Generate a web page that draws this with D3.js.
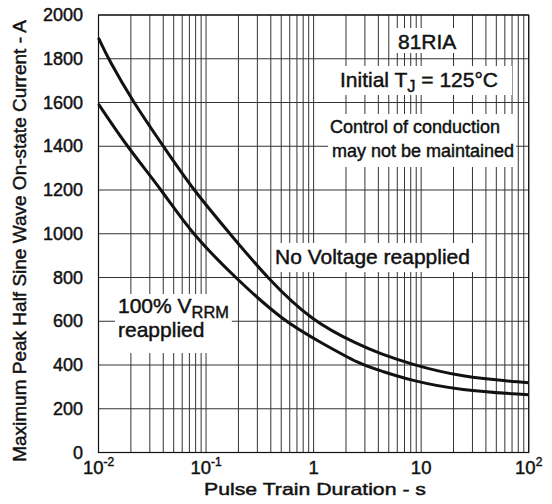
<!DOCTYPE html>
<html>
<head>
<meta charset="utf-8">
<script src="https://cdn.jsdelivr.net/npm/d3@7"></script>
<style>
  body { margin: 0; background: #fff; }
  text { font-family: "Liberation Sans", Arial, sans-serif; fill: #111; stroke: #111; stroke-width: 0.45; }
</style>
</head>
<body>
<div id="chart"></div>
<script>
// curves: pulse duration (s) -> peak current (A)
const noVoltageT = [0.01, 0.0123, 0.0211, 0.0401, 0.076, 0.167, 0.366, 0.96, 2.7, 4.14, 7.87, 23, 100];
const noVoltageI = [1895, 1800, 1600, 1400, 1200, 1000, 800, 600, 490, 452, 405, 345, 319];

const reappliedT = [0.01, 0.0183, 0.0387, 0.0736, 0.186, 0.522, 1.23, 2.7, 4.14, 7.87, 23, 100];
const reappliedI = [1593, 1400, 1200, 1000, 800, 600, 497, 403, 375, 330, 284, 264];

const yTicks = [0, 200, 400, 600, 800, 1000, 1200, 1400, 1600, 1800, 2000];
const xDecades = [0.01, 0.1, 1, 10, 100];
const xTickBase = ["10", "10", "1", "10", "10"];
const xTickSup = ["-2", "-1", "", "", "2"];


function drawSurgeChart(target) {

    let width = 552;
    let height = 504;
    const svg = d3.select(target).append("svg")
        .attr("width", width)
        .attr("height", height);

    let x = d3.scaleLog()
        .domain([0.01, 100])
        .range([98.5, 528.7]);
    let y = d3.scaleLinear()
        .domain([0, 2000])
        .range([452.5, 15]);

    // grid: every 1..9 of each decade, every 200 A
    svg.selectAll(".vgrid")
        .data(x.ticks())
        .join(
            enter => enter.append("line")
                .attr("class", "vgrid")
                .attr("x1", d => x(d))
                .attr("x2", d => x(d))
                .attr("y1", y(0))
                .attr("y2", y(2000))
                .attr("stroke", "#333")
                .attr("stroke-width", 1)
        );

    svg.selectAll(".hgrid")
        .data(yTicks)
        .join(
            enter => enter.append("line")
                .attr("class", "hgrid")
                .attr("x1", x(0.01))
                .attr("x2", x(100))
                .attr("y1", d => y(d))
                .attr("y2", d => y(d))
                .attr("stroke", "#333")
                .attr("stroke-width", 1)
        );

    svg.append("rect")
        .attr("x", x(0.01))
        .attr("y", y(2000))
        .attr("width", x(100) - x(0.01))
        .attr("height", y(0) - y(2000))
        .attr("fill", "none")
        .attr("stroke", "#111")
        .attr("stroke-width", 1.2);

    // tick labels
    svg.selectAll(".ylabel")
        .data(yTicks)
        .join(
            enter => enter.append("text")
                .attr("class", "ylabel")
                .attr("x", 83)
                .attr("y", d => y(d) + 6)
                .attr("text-anchor", "end")
                .attr("font-size", 18)
                .text(d => d)
        );

    let xl = svg.selectAll(".xlabel")
        .data(xDecades)
        .join("text")
        .attr("class", "xlabel")
        .attr("x", d => x(d))
        .attr("y", 474)
        .attr("text-anchor", "middle")
        .attr("font-size", 18.5);
    xl.append("tspan").text((d, i) => xTickBase[i]);
    xl.filter((d, i) => xTickSup[i] !== "")
        .append("tspan")
        .attr("font-size", 12)
        .attr("dy", -8)
        .text((d, i) => xTickSup[xDecades.indexOf(d)]);

    svg.append("text")
        .attr("x", 315)
        .attr("y", 495)
        .attr("text-anchor", "middle")
        .attr("font-size", 17)
        .attr("textLength", 222)
        .attr("lengthAdjust", "spacingAndGlyphs")
        .text("Pulse Train Duration - s");

    svg.append("text")
        .attr("transform", "translate(26,241) rotate(-90)")
        .attr("text-anchor", "middle")
        .attr("font-size", 19)
        .text("Maximum Peak Half Sine Wave On-state Current - A");

    // annotations sit on white boxes that cut the grid
    function note(lines, px, py) {
        let g = svg.append("g");
        let box = g.append("rect").attr("fill", "#fff").attr("stroke", "none");
        lines.forEach(l => {
            let t = g.append("text")
                .attr("x", l.x)
                .attr("y", l.y)
                .attr("font-size", l.size);
            l.parts.forEach(p => {
                let s = t.append("tspan").text(p.text);
                if (p.sub) s.attr("font-size", l.size * 0.78).attr("dy", 5);
                if (p.back) s.attr("dy", -5);
            });
        });
        let bb = g.node().getBBox();
        box.attr("x", bb.x - px[0])
            .attr("y", bb.y - py[0])
            .attr("width", bb.width + px[0] + px[1])
            .attr("height", bb.height + py[0] + py[1]);
    }

    note([{x: 398, y: 49, size: 21, parts: [{text: "81RIA"}]}], [3, 3], [2, 0]);
    note([{x: 340, y: 87, size: 21, parts: [
        {text: "Initial T"}, {text: "J", sub: true}, {text: " = 125°C", back: true}]}], [7, 14], [2, 0]);
    note([
        {x: 330, y: 133, size: 18, parts: [{text: "Control of conduction"}]},
        {x: 332, y: 157, size: 18, parts: [{text: "may not be maintained"}]}
    ], [2, 2], [3, 6]);
    note([{x: 275, y: 264, size: 21, parts: [{text: "No Voltage reapplied"}]}], [3, 5], [2, 4]);
    note([
        {x: 118, y: 313, size: 21, parts: [{text: "100% V"}, {text: "RRM", sub: true}]},
        {x: 118, y: 337, size: 21, parts: [{text: "reapplied"}]}
    ], [3, 3], [0, 12]);

    let line = d3.line()
        .x(d => x(d[0]))
        .y(d => y(d[1]))
        .curve(d3.curveBasis);

    let curves = [
        d3.zip(noVoltageT, noVoltageI),
        d3.zip(reappliedT, reappliedI)
    ];

    svg.selectAll(".curve")
        .data(curves)
        .join(
            enter => enter.append("path")
                .attr("class", "curve")
                .attr("d", line)
                .attr("fill", "none")
                .attr("stroke", "#111")
                .attr("stroke-width", 3)
        );
}

drawSurgeChart("#chart");
</script>
</body>
</html>
